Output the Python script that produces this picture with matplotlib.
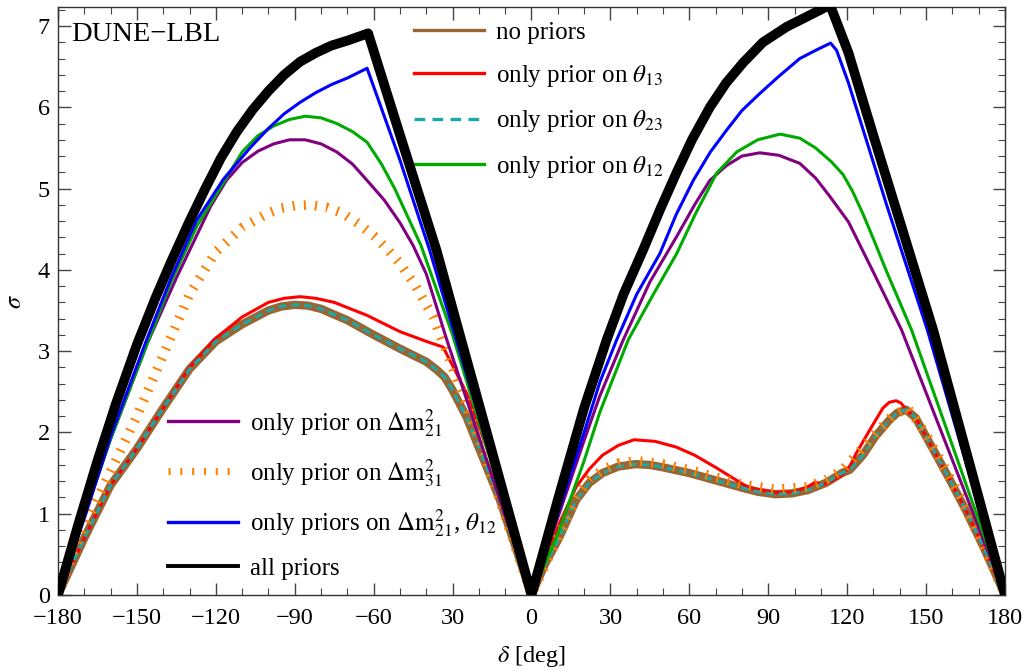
import numpy as np
import matplotlib
matplotlib.use("Agg")
import matplotlib.pyplot as plt
from matplotlib.lines import Line2D

plt.rcParams['font.family'] = ['Liberation Serif', 'DejaVu Serif']
plt.rcParams['mathtext.fontset'] = 'stix'

# ---- data (delta in deg, sensitivity in sigma) ----
no_priors_x = [-180, -170, -160, -150, -140, -130, -120, -110, -100, -95, -90, -85, -80, -70, -60, -50,
               -40, -36, -33, -30, -24.7, -12, 0, 5, 10.6, 17, 22, 27, 33, 39.6, 45, 50, 60, 70, 80, 86,
               92.7, 99, 105, 112, 118, 121, 126, 130.7, 136, 139, 142.4, 146, 150, 159, 165, 171.7, 180]
no_priors_y = [0, 0.7, 1.35, 1.8, 2.3, 2.78, 3.12, 3.33, 3.5, 3.55, 3.57, 3.56, 3.52, 3.38, 3.2, 3.03,
               2.87, 2.77, 2.68, 2.52, 2.19, 1.17, 0, 0.37, 0.71, 1.17, 1.38, 1.5, 1.58, 1.61, 1.6, 1.57, 1.5,
               1.41, 1.32, 1.27, 1.24, 1.25, 1.29, 1.38, 1.5, 1.54, 1.72, 1.95, 2.15, 2.24, 2.28, 2.18, 1.95,
               1.42, 1.05, 0.6, 0]

theta13_x = [-180, -170, -160, -150, -140, -130, -120, -110, -100, -94, -88, -82, -75, -62.5, -50, -40,
             -33.6, -24.6, -12, 0, 10.6, 17, 22, 27, 33, 39, 47, 55, 62, 70, 76, 82.6, 92.7, 100, 105, 108,
             110, 114, 118, 121, 123.4, 128.6, 133.6, 136, 138.6, 140.5, 142.4, 146, 150, 159, 165, 171.7, 180]
theta13_y = [0, 0.7, 1.35, 1.8, 2.3, 2.8, 3.16, 3.42, 3.6, 3.65, 3.67, 3.65, 3.6, 3.44, 3.24, 3.12,
             3.05, 2.48, 1.37, 0, 0.88, 1.33, 1.55, 1.72, 1.84, 1.91, 1.89, 1.82, 1.72, 1.57, 1.45, 1.32, 1.26,
             1.27, 1.33, 1.39, 1.35, 1.4, 1.47, 1.58, 1.74, 2.03, 2.3, 2.37, 2.39, 2.36, 2.28, 2.18, 1.95, 1.42,
             1.05, 0.6, 0]

# prior on theta23 alone gives the same curve as no priors
theta23_x = no_priors_x
theta23_y = no_priors_y

theta12_x = [-180, -170, -160, -146, -137, -127, -116, -110, -104, -98, -92, -86, -80, -74, -68, -62.5,
             -57, -52, -42, -30, -15, 0, 10, 20, 26, 36.8, 46, 55.2, 62.5, 70.4, 78, 86, 94.5, 102, 108,
             114, 118.5, 122, 126, 130, 135, 144.5, 160, 170, 180]
theta12_y = [0, 0.98, 1.92, 3.1, 3.85, 4.55, 5.13, 5.45, 5.65, 5.77, 5.85, 5.89, 5.87, 5.8, 5.7, 5.57,
             5.3, 5.0, 4.3, 3.2, 1.6, 0, 0.75, 1.65, 2.25, 3.14, 3.68, 4.2, 4.7, 5.19, 5.45, 5.6, 5.67, 5.62,
             5.5, 5.33, 5.17, 4.97, 4.69, 4.38, 3.98, 3.26, 1.84, 0.92, 0]

dm21_x = [-180, -170, -160, -146, -135, -122, -116, -110, -104, -98, -92, -86, -80, -74, -68, -62.5,
          -56, -50, -45, -40, -32.2, -15, 0, 10, 20, 26, 34.9, 45, 55.2, 62, 67.8, 74, 80, 86.8, 94, 102,
          108, 113.5, 120.5, 130, 140.7, 160, 180]
dm21_y = [0, 0.98, 1.92, 3.1, 3.9, 4.78, 5.1, 5.32, 5.46, 5.55, 5.6, 5.6, 5.55, 5.45, 5.3, 5.1,
          4.86, 4.58, 4.3, 3.95, 3.14, 1.46, 0, 0.95, 1.9, 2.45, 3.14, 3.85, 4.41, 4.8, 5.1, 5.28, 5.4, 5.44,
          5.41, 5.31, 5.13, 4.9, 4.59, 3.97, 3.26, 1.66, 0]

dm31_x = [-180, -174, -170, -160, -150, -140, -130, -120, -110, -100, -95, -90, -84, -78, -72, -65,
          -60, -55, -50, -44, -37.4, -31, -18.4, 0, 10.6, 17, 22, 27, 33, 40, 50, 60, 70, 80, 92.7, 105,
          112, 118, 124, 130.7, 137, 143, 150, 159, 165, 171.7, 180]
dm31_y = [0, 0.55, 0.85, 1.52, 2.2, 2.95, 3.7, 4.22, 4.52, 4.7, 4.76, 4.79, 4.8, 4.77, 4.7, 4.55,
          4.42, 4.26, 4.08, 3.8, 3.42, 2.89, 1.78, 0, 0.75, 1.2, 1.42, 1.54, 1.62, 1.65, 1.61, 1.54, 1.45,
          1.36, 1.3, 1.33, 1.42, 1.53, 1.74, 1.98, 2.2, 2.3, 1.98, 1.45, 1.08, 0.62, 0]

dm21_th12_x = [-180, -169.4, -160, -146.3, -137, -127.3, -117, -107, -100, -94, -88, -82, -76, -70,
               -62.5, -50, -38.7, -20, 0, 10, 20, 26, 32.4, 40, 48.8, 55, 61.5, 68, 74.2, 80, 86.8, 94,
               102, 108, 113.7, 116, 120.5, 135, 150.5, 165, 180]
dm21_th12_y = [0, 1.0, 1.95, 3.14, 3.9, 4.61, 5.12, 5.5, 5.74, 5.92, 6.06, 6.18, 6.28, 6.36,
               6.48, 5.35, 4.24, 2.2, 0, 1.0, 2.0, 2.62, 3.14, 3.7, 4.2, 4.68, 5.1, 5.45, 5.72, 5.96, 6.17,
               6.38, 6.6, 6.7, 6.79, 6.7, 6.3, 4.8, 3.26, 1.65, 0]

all_x = [-180, -172, -165, -158, -150, -143, -137, -130, -124, -118, -112, -106, -100, -94, -88, -82,
         -76, -70, -62.1, -50, -36.1, -20, 0, 10, 20, 28.6, 35, 42.5, 49, 55.2, 61, 67.8, 74, 80.5, 88,
         97, 105, 113.5, 120.5, 130, 140, 152.7, 160, 170, 180]
all_y = [0, 0.9, 1.65, 2.35, 3.08, 3.65, 4.1, 4.6, 5.0, 5.38, 5.7, 5.97, 6.2, 6.4, 6.56, 6.67,
         6.76, 6.82, 6.91, 5.66, 4.24, 2.35, 0, 1.17, 2.3, 3.14, 3.7, 4.25, 4.75, 5.2, 5.6, 6.0, 6.3, 6.55,
         6.8, 6.99, 7.12, 7.26, 6.67, 5.65, 4.6, 3.26, 2.39, 1.2, 0]

xtick_pos = [-180, -150, -120, -90, -60, -30, 0, 30, 60, 90, 120, 150, 180]
xtick_lab = ['\u2212180', '\u2212150', '\u2212120', '\u221290', '\u221260', '30', '0',
             '30', '60', '90', '120', '150', '180']
ytick_pos = [0, 1, 2, 3, 4, 5, 6, 7]

c_brown = '#996633'
c_red = '#ff0000'
c_cyan = '#1aa8a8'
c_green = '#00aa00'
c_purple = '#800080'
c_orange = '#ff8000'
c_blue = '#0000ff'
c_black = '#000000'

fig = plt.figure(figsize=(10.30, 6.71), dpi=100)
ax = fig.add_axes([0.0563, 0.1133, 0.9194, 0.8758])

kw = dict(solid_joinstyle='round')
ax.plot(no_priors_x, no_priors_y, color=c_brown, lw=6, solid_capstyle='butt', zorder=2, **kw)
ax.plot(theta13_x, theta13_y, color=c_red, lw=2.2, zorder=3, **kw)
ax.plot(theta23_x, theta23_y, color=c_cyan, lw=2.2, dashes=(2.6, 1.6), zorder=4)
ax.plot(dm31_x, dm31_y, color=c_orange, lw=7, dashes=(0.2, 0.95), dash_capstyle='butt', zorder=5)
ax.plot(dm21_x, dm21_y, color=c_purple, lw=2.2, zorder=6, **kw)
ax.plot(theta12_x, theta12_y, color=c_green, lw=2.2, zorder=7, **kw)
ax.plot(dm21_th12_x, dm21_th12_y, color=c_blue, lw=2.2, zorder=8, **kw)
ax.plot(all_x, all_y, color=c_black, lw=7, zorder=9, **kw)

ax.set_xlim(-180, 180)
ax.set_ylim(0, 7.23)
ax.set_xticks(xtick_pos)
ax.set_xticklabels(xtick_lab)
ax.set_xticks(np.arange(-180, 181, 10), minor=True)
ax.set_yticks(ytick_pos)
ax.set_yticks(np.arange(0, 7.25, 0.2), minor=True)
ax.tick_params(which='both', direction='in', top=True, right=True, color='#444444',
               labelsize=17.5)
ax.tick_params(axis='x', pad=9.5)
ax.tick_params(axis='y', pad=6)
ax.tick_params(which='major', length=9, width=1)
ax.tick_params(which='minor', length=5, width=0.8)
for s in ax.spines.values():
    s.set_color('#333333')
    s.set_linewidth(1)

ax.set_xlabel('$\\delta$ [deg]', fontsize=17.5, labelpad=11)
ax.set_ylabel('$\\sigma$', fontsize=17.5, labelpad=8)

ax.text(0.0138, 0.975, 'DUNE\u2212LBL', transform=ax.transAxes, fontsize=20.5,
        ha='left', va='top')

h1 = [Line2D([], [], color=c_brown, lw=2.4),
      Line2D([], [], color=c_red, lw=2.4),
      Line2D([], [], color=c_cyan, lw=2.4, dashes=(3.2, 2.2)),
      Line2D([], [], color=c_green, lw=2.4)]
l1 = ['no priors', 'only prior on $\\theta_{13}$', 'only prior on $\\theta_{23}$',
      'only prior on $\\theta_{12}$']
h2 = [Line2D([], [], color=c_purple, lw=2.4),
      Line2D([], [], color=c_orange, lw=5, dashes=(0.3, 1.4), dash_capstyle='butt'),
      Line2D([], [], color=c_blue, lw=2.4),
      Line2D([], [], color=c_black, lw=2.8)]
l2 = ['only prior on $\\Delta\\mathrm{m}^2_{21}$', 'only prior on $\\Delta\\mathrm{m}^2_{31}$',
      'only priors on $\\Delta\\mathrm{m}^2_{21}$, $\\theta_{12}$', 'all priors']

leg1 = ax.legend(h1, l1, loc='upper left', bbox_to_anchor=(414 / 1030, 1 - 21 / 671),
                 bbox_transform=fig.transFigure, frameon=False, fontsize=18,
                 handlelength=2.8, handletextpad=0.5, labelspacing=0.78, borderpad=0,
                 borderaxespad=0)
ax.add_artist(leg1)
ax.legend(h2, l2, loc='upper left', bbox_to_anchor=(168 / 1030, 1 - 407 / 671),
          bbox_transform=fig.transFigure, frameon=False, fontsize=18,
          handlelength=2.8, handletextpad=0.5, labelspacing=0.73, borderpad=0,
          borderaxespad=0)

fig.savefig('out.png', dpi=100)
